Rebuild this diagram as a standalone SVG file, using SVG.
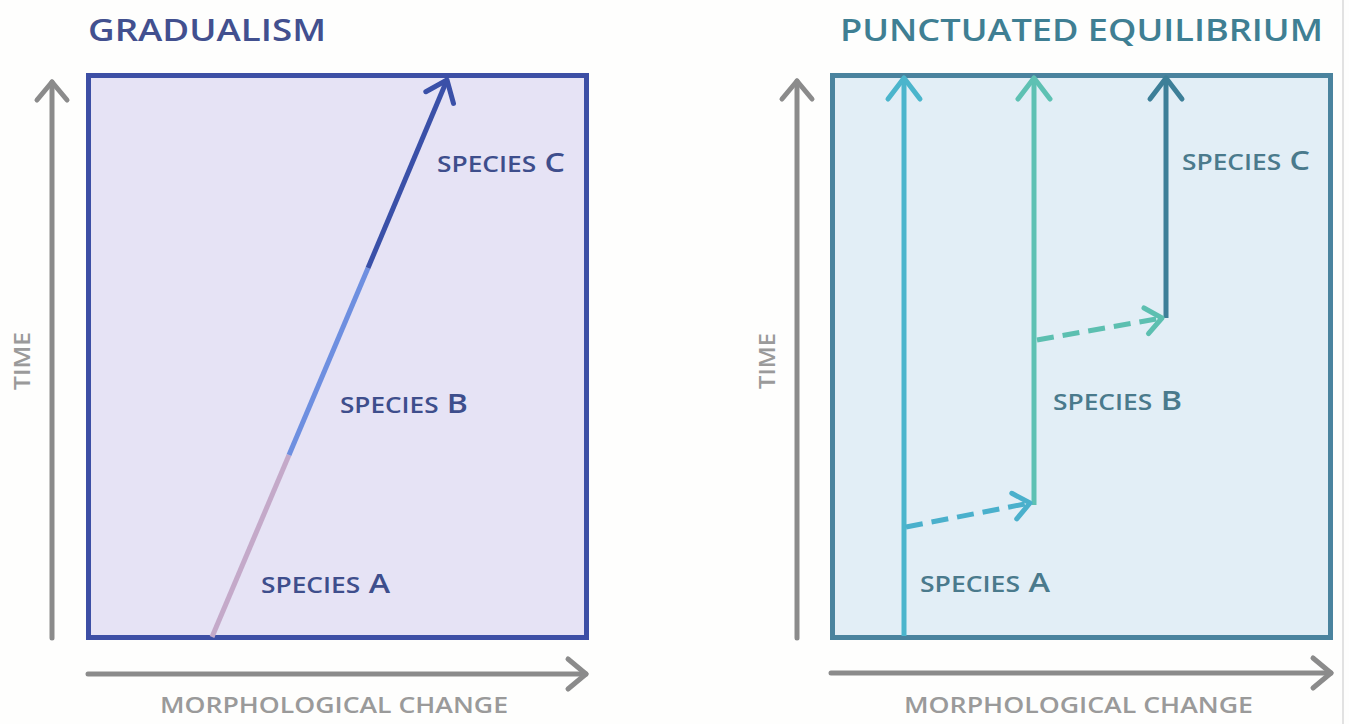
<svg xmlns="http://www.w3.org/2000/svg" width="1349" height="724" viewBox="0 0 1349 724">
  <defs>
    <style>
      .title{font-family:"Open Sans","Liberation Sans",sans-serif;font-weight:600;font-size:31px}
      .lab{font-family:"Open Sans","Liberation Sans",sans-serif;font-weight:600}
      .sp{font-size:22px}
      .big{font-size:27px}
      .axlab{font-family:"Open Sans","Liberation Sans",sans-serif;font-weight:600;font-size:21px;fill:#9a9a9a}
      .axis{stroke:#8b8b8b;stroke-width:5;fill:none;stroke-linecap:round}
      .ln{stroke-width:5;fill:none}
      .dash{stroke-width:5;fill:none;stroke-dasharray:17 9}
    </style>
    <marker id="mAxis" markerUnits="userSpaceOnUse" orient="auto" refX="0" refY="0" overflow="visible">
      <path d="M -18 -15 L 0 0 L -18 15" fill="none" stroke="#8b8b8b" stroke-width="5" stroke-linecap="round" stroke-linejoin="round"/>
    </marker>
    <marker id="mGrad" markerUnits="userSpaceOnUse" orient="auto" refX="0" refY="0" overflow="visible">
      <path d="M -19 -15 L 0 0 L -19 15" fill="none" stroke="#3a50a8" stroke-width="5" stroke-linecap="round" stroke-linejoin="round"/>
    </marker>
    <marker id="m1" markerUnits="userSpaceOnUse" orient="auto" refX="0" refY="0" overflow="visible">
      <path d="M -21 -16 L 0 0 L -21 16" fill="none" stroke="#4bb5cc" stroke-width="5" stroke-linecap="round" stroke-linejoin="round"/>
    </marker>
    <marker id="m2" markerUnits="userSpaceOnUse" orient="auto" refX="0" refY="0" overflow="visible">
      <path d="M -21 -16 L 0 0 L -21 16" fill="none" stroke="#5ec1b3" stroke-width="5" stroke-linecap="round" stroke-linejoin="round"/>
    </marker>
    <marker id="m3" markerUnits="userSpaceOnUse" orient="auto" refX="0" refY="0" overflow="visible">
      <path d="M -21 -16 L 0 0 L -21 16" fill="none" stroke="#3d7f98" stroke-width="5" stroke-linecap="round" stroke-linejoin="round"/>
    </marker>
    <marker id="md1" markerUnits="userSpaceOnUse" orient="auto" refX="0" refY="0" overflow="visible">
      <path d="M -16 -13 L 0 0 L -16 13" fill="none" stroke="#4ab0cc" stroke-width="5" stroke-linecap="round" stroke-linejoin="round"/>
    </marker>
    <marker id="md2" markerUnits="userSpaceOnUse" orient="auto" refX="0" refY="0" overflow="visible">
      <path d="M -16 -13 L 0 0 L -16 13" fill="none" stroke="#5cbfb0" stroke-width="5" stroke-linecap="round" stroke-linejoin="round"/>
    </marker>
  </defs>

  <rect x="0" y="0" width="1349" height="724" fill="#fefefd"/>
  <line x1="1343" y1="0" x2="1343" y2="724" stroke="#e2e2e2" stroke-width="2"/>

  <!-- Gradualism panel -->
  <g id="gradualism-panel">
    <text class="title" x="88" y="41" fill="#42508f" textLength="238" lengthAdjust="spacingAndGlyphs">GRADUALISM</text>
    <rect x="88.5" y="75.5" width="498" height="562" fill="#e6e3f5" stroke="#3d4fa5" stroke-width="5"/>
  </g>

  <!-- Punctuated equilibrium panel -->
  <g id="punctuated-panel">
    <text class="title" x="840" y="41" fill="#3f7f93" textLength="483" lengthAdjust="spacingAndGlyphs">PUNCTUATED EQUILIBRIUM</text>
    <rect x="832.5" y="75.5" width="498" height="562" fill="#e2eef6" stroke="#4a839e" stroke-width="5"/>
  </g>

  <!-- Axes -->
  <g id="axes">
    <line class="axis" x1="52" y1="638" x2="52" y2="82" marker-end="url(#mAxis)"/>
    <line class="axis" x1="88" y1="674" x2="586" y2="674" marker-end="url(#mAxis)"/>
    <line class="axis" x1="797" y1="638" x2="797" y2="81" marker-end="url(#mAxis)"/>
    <line class="axis" x1="831" y1="673" x2="1331" y2="673" marker-end="url(#mAxis)"/>
    <text class="axlab" transform="translate(30 361) rotate(-90)" text-anchor="middle" textLength="58" lengthAdjust="spacingAndGlyphs">TIME</text>
    <text class="axlab" transform="translate(775 361) rotate(-90)" text-anchor="middle" textLength="56" lengthAdjust="spacingAndGlyphs">TIME</text>
    <text class="axlab" x="160" y="713" textLength="348" lengthAdjust="spacingAndGlyphs">MORPHOLOGICAL CHANGE</text>
    <text class="axlab" x="904" y="713" textLength="349" lengthAdjust="spacingAndGlyphs">MORPHOLOGICAL CHANGE</text>
  </g>

  <!-- Connectors / lineages -->
  <g id="connectors">
    <line class="ln" x1="212" y1="637" x2="289" y2="455" stroke="#c4a9c9"/>
    <line class="ln" x1="289" y1="455" x2="368" y2="268" stroke="#6e8fe0"/>
    <line class="ln" x1="368" y1="268" x2="447" y2="80" stroke="#3a50a8" marker-end="url(#mGrad)"/>

    <line class="ln" x1="904" y1="636" x2="904" y2="78" stroke="#4bb5cc" marker-end="url(#m1)"/>
    <line class="ln" x1="1034" y1="505" x2="1034" y2="78" stroke="#5ec1b3" marker-end="url(#m2)"/>
    <line class="ln" x1="1166" y1="318" x2="1166" y2="78" stroke="#3d7f98" marker-end="url(#m3)"/>
    <line class="dash" x1="906" y1="527" x2="1030" y2="503" stroke="#4ab0cc" marker-end="url(#md1)"/>
    <line class="dash" x1="1037" y1="340" x2="1162" y2="318" stroke="#5cbfb0" marker-end="url(#md2)"/>
  </g>

  <!-- Labels -->
  <g id="grad-species-a"><text class="lab" x="261" y="593" fill="#3e4e8c" textLength="129" lengthAdjust="spacingAndGlyphs"><tspan class="sp">SPECIES</tspan><tspan class="big"> A</tspan></text></g>
  <g id="grad-species-b"><text class="lab" x="340" y="413" fill="#3e4e8c" textLength="128" lengthAdjust="spacingAndGlyphs"><tspan class="sp">SPECIES</tspan><tspan class="big"> B</tspan></text></g>
  <g id="grad-species-c"><text class="lab" x="437" y="172" fill="#3e4e8c" textLength="128" lengthAdjust="spacingAndGlyphs"><tspan class="sp">SPECIES</tspan><tspan class="big"> C</tspan></text></g>
  <g id="punc-species-a"><text class="lab" x="920" y="592" fill="#4a7a8c" textLength="130" lengthAdjust="spacingAndGlyphs"><tspan class="sp">SPECIES</tspan><tspan class="big"> A</tspan></text></g>
  <g id="punc-species-b"><text class="lab" x="1053" y="410" fill="#4a7a8c" textLength="129" lengthAdjust="spacingAndGlyphs"><tspan class="sp">SPECIES</tspan><tspan class="big"> B</tspan></text></g>
  <g id="punc-species-c"><text class="lab" x="1182" y="170" fill="#4a7a8c" textLength="128" lengthAdjust="spacingAndGlyphs"><tspan class="sp">SPECIES</tspan><tspan class="big"> C</tspan></text></g>
</svg>
